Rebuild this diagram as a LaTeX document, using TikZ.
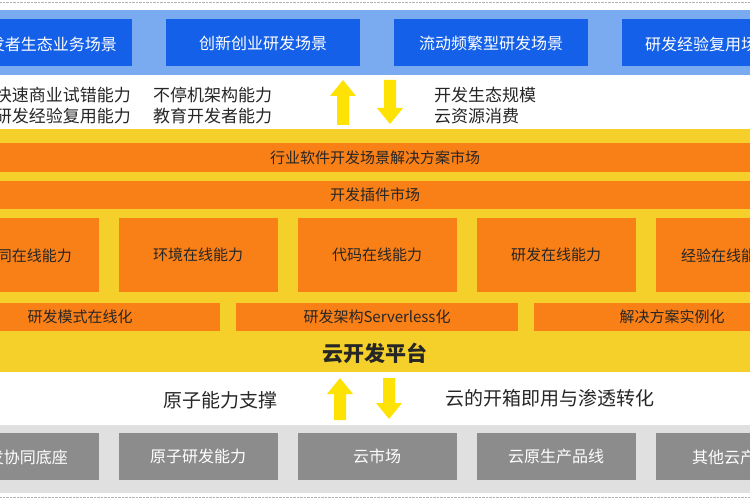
\documentclass[tikz,border=0pt]{standalone}
\usepackage{fontspec}
\setmainfont{Noto Sans CJK SC}
\begin{document}
\begin{tikzpicture}[x=1pt,y=-1pt,
  blue/.style={fill=bb,draw=none,text=white,font=\fontsize{16}{16}\selectfont},
  org/.style={fill=oo,draw=none,text=black!85,font=\fontsize{15}{15}\selectfont},
  gry/.style={fill=black!45,draw=none,text=white,font=\fontsize{16}{16}\selectfont},
  lbl/.style={text=black!85,font=\fontsize{17}{21}\selectfont,align=left,inner sep=0},
  arr/.style={fill=yellow!85!orange,draw=none}]
\definecolor{bb}{HTML}{1560E8}
\definecolor{oo}{HTML}{F97F17}
\definecolor{yy}{HTML}{F5D02A}
\definecolor{lb}{HTML}{7AAAF0}
\useasboundingbox (0,0) rectangle (750,500);
\clip (0,0) rectangle (750,500);
\fill[white] (0,0) rectangle (750,500);
\draw[black!30,densely dotted] (0,2) -- (750,2) (0,497) -- (750,497);
% top band
\fill[lb] (0,10) rectangle (750,75);
\node[blue,minimum width=194,minimum height=47] (t1) at (35,43) {};
\node[blue,anchor=east,inner sep=0,fill=none] (t1t) at (117,44) {开发者生态业务场景};
\node[blue,minimum width=194,minimum height=47] (t2) at (263,43) {创新创业研发场景};
\node[blue,minimum width=194,minimum height=47] (t3) at (491,43) {流动频繁型研发场景};
\node[blue,minimum width=194,minimum height=47] (t4) at (719,43) {};
\node[blue,anchor=west,inner sep=0,fill=none] (t4t) at (645,44) {研发经验复用场景};
% white labels
\node[lbl,anchor=east] (l1) at (131,106) {快速商业试错能力\\研发经验复用能力};
\node[lbl,anchor=west] (l2) at (153,106) {不停机架构能力\\教育开发者能力};
\node[lbl,anchor=west] (l3) at (434,106) {开发生态规模\\云资源消费};
\fill[arr] (343,80) -- (356,96) -- (349,96) -- (349,125) -- (337,125) -- (337,96) -- (330,96) -- cycle;
\fill[arr] (384,80) -- (396,80) -- (396,108) -- (403,108) -- (390,124) -- (377,108) -- (384,108) -- cycle;
% yellow band
\fill[yy] (0,129) rectangle (750,372);
\node[org,minimum width=760,minimum height=29] (b1) at (375,158) {行业软件开发场景解决方案市场};
\node[org,minimum width=760,minimum height=28] (b2) at (375,195) {开发插件市场};
\node[org,minimum width=159,minimum height=74] (c1) at (19,255) {};
\node[org,anchor=east,inner sep=0,fill=none] (c1t) at (72,256) {协同在线能力};
\foreach \x/\t [count=\i from 2] in {198/环境在线能力,377/代码在线能力,556/研发在线能力}
  \node[org,minimum width=159,minimum height=74] (c\i) at (\x,255) {\t};
\node[org,minimum width=159,minimum height=74] (c5) at (735,255) {};
\node[org,anchor=west,inner sep=0,fill=none] (c5t) at (681,256) {经验在线能力};
\node[org,minimum width=240,minimum height=28] (d1) at (100,317) {};
\node[org,inner sep=0,fill=none] (d1t) at (80,317) {研发模式在线化};
\node[org,minimum width=282,minimum height=28] (d2) at (377,317) {研发架构Serverless化};
\node[org,minimum width=240,minimum height=28] (d3) at (654,317) {};
\node[org,inner sep=0,fill=none] (d3t) at (672,317) {解决方案实例化};
\node[text=black!85,font=\fontsize{21}{21}\selectfont\bfseries] (p) at (375,353) {云开发平台};
% middle white
\node[lbl,font=\fontsize{19}{19}\selectfont] (m1) at (220,400) {原子能力支撑};
\node[lbl,font=\fontsize{19}{19}\selectfont] (m2) at (550,398) {云的开箱即用与渗透转化};
\fill[arr] (340,378) -- (353,394) -- (346,394) -- (346,420) -- (334,420) -- (334,394) -- (327,394) -- cycle;
\fill[arr] (383,378) -- (395,378) -- (395,403) -- (402,403) -- (389,419) -- (376,403) -- (383,403) -- cycle;
% bottom band
\fill[black!12] (0,425) rectangle (750,493);
\node[gry,minimum width=159,minimum height=47] (g1) at (19,456) {};
\node[gry,anchor=east,inner sep=0,fill=none] (g1t) at (68,457) {研发协同底座};
\foreach \x/\t [count=\i from 2] in {198/原子研发能力,377/云市场,556/云原生产品线}
  \node[gry,minimum width=159,minimum height=47] (g\i) at (\x,456) {\t};
\node[gry,minimum width=159,minimum height=47] (g5) at (735,456) {};
\node[gry,anchor=west,inner sep=0,fill=none] (g5t) at (692,457) {其他云产品};
\end{tikzpicture}
\end{document}
